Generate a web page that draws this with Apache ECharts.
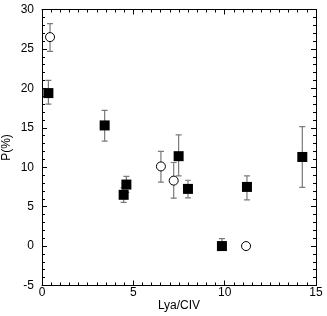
<!DOCTYPE html>
<html><head><meta charset="utf-8">
<script src="https://cdn.jsdelivr.net/npm/echarts@6/dist/echarts.min.js"></script>
<style>html,body{margin:0;padding:0;background:#fff}#c{width:327px;height:316px}</style>
</head><body><div id="c"></div>
<script>
// Filled squares: [x, y, errLow, errHigh]
const squareX = [0.35, 3.43, 4.47, 4.62, 7.48, 7.99, 9.85, 11.22, 14.25];
const squareY = [19.4, 15.3, 6.5, 7.8, 11.4, 7.25, 0.0, 7.5, 11.3];
const squareLo = [18.0, 13.3, 5.55, 6.8, 8.9, 6.1, -0.4, 5.85, 7.45];
const squareHi = [21.0, 17.2, 7.4, 8.85, 14.1, 8.35, 0.95, 8.9, 15.15];
// Open circles
const circleX = [0.44, 6.51, 7.21, 11.17];
const circleY = [26.5, 10.1, 8.3, 0.0];
const circleLo = [24.7, 8.1, 6.07, null];
const circleHi = [28.2, 12.0, 10.6, null];
const xTicks = [0, 5, 10, 15];
const yTicks = [-5, 0, 5, 10, 15, 20, 25, 30];

const font = 'Liberation Sans, Arial, sans-serif';
const errData = [];
squareX.forEach((x, i) => errData.push([x, squareLo[i], squareHi[i]]));
circleX.forEach((x, i) => { if (circleLo[i] !== null) errData.push([x, circleLo[i], circleHi[i]]); });

function errItem(params, api) {
  const x = api.value(0), lo = api.value(1), hi = api.value(2);
  const pLo = api.coord([x, lo]), pHi = api.coord([x, hi]);
  const w = 3;
  const st = {stroke: '#7a7a7a', lineWidth: 1.2};
  return {type: 'group', children: [
    {type: 'line', shape: {x1: pLo[0], y1: pLo[1], x2: pHi[0], y2: pHi[1]}, style: st},
    {type: 'line', shape: {x1: pLo[0]-w, y1: pLo[1], x2: pLo[0]+w, y2: pLo[1]}, style: st},
    {type: 'line', shape: {x1: pHi[0]-w, y1: pHi[1], x2: pHi[0]+w, y2: pHi[1]}, style: st}
  ]};
}

const axisCommon = {
  type: 'value', min: 0, max: 15, interval: 5,
  axisLine: {show: true, onZero: false, lineStyle: {color: '#000', width: 1}},
  axisTick: {show: true, inside: true, length: 5, lineStyle: {color: '#000'}},
  minorTick: {show: true, splitNumber: 10, length: 3, lineStyle: {color: '#000'}},
  splitLine: {show: false}
};
const yCommon = Object.assign({}, axisCommon, {min: -5, max: 30, interval: 5,
  minorTick: {show: true, splitNumber: 5, length: 3, lineStyle: {color: '#000'}}});

const chart = echarts.init(document.getElementById('c'), null, {renderer: 'canvas'});
chart.setOption({
  animation: false,
  backgroundColor: '#fff',
  grid: {left: 42, right: 11, top: 9.5, bottom: 30.5, containLabel: false, outerBoundsMode: 'none'},
  xAxis: [
    Object.assign({}, axisCommon, {position: 'bottom',
      name: 'Lya/CIV', nameLocation: 'middle', nameGap: 14, nameMoveOverlap: false,
      nameTextStyle: {fontFamily: font, fontSize: 12, color: '#000', verticalAlign: 'top'},
      axisLabel: {fontFamily: font, fontSize: 12, color: '#000', margin: 1,
        formatter: v => xTicks.includes(v) ? String(v) : ''}}),
    Object.assign({}, axisCommon, {position: 'top', axisLabel: {show: false}})
  ],
  yAxis: [
    Object.assign({}, yCommon, {position: 'left',
      name: 'P(%)', nameLocation: 'middle', nameGap: 29, nameMoveOverlap: false,
      nameTextStyle: {fontFamily: font, fontSize: 12, color: '#000'},
      axisLabel: {fontFamily: font, fontSize: 12, color: '#000', margin: 8,
        formatter: v => yTicks.includes(v) ? String(v) : ''}}),
    Object.assign({}, yCommon, {position: 'right', axisLabel: {show: false}})
  ],
  series: [
    {type: 'custom', renderItem: errItem, data: errData, z: 1, clip: true,
      encode: {x: 0, y: [1, 2]}},
    {type: 'scatter', symbol: 'rect', symbolSize: 10, z: 3,
      itemStyle: {color: '#000', opacity: 1},
      data: squareX.map((x, i) => [x, squareY[i]])},
    {type: 'scatter', symbol: 'circle', symbolSize: 9, z: 3,
      itemStyle: {color: '#fff', borderColor: '#000', borderWidth: 1, opacity: 1},
      data: circleX.map((x, i) => [x, circleY[i]])}
  ]
});
</script></body></html>
